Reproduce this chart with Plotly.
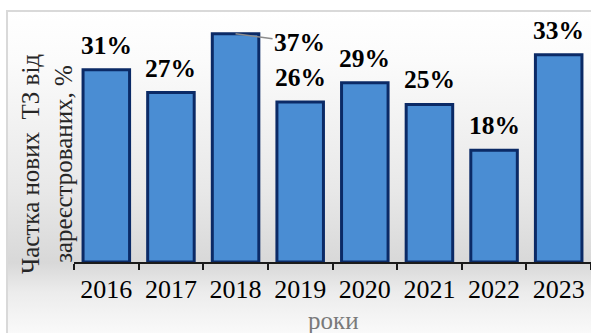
import base64
import plotly.graph_objects as go

years = ["2016", "2017", "2018", "2019", "2020", "2021", "2022", "2023"]
shares = [31.0, 27.3, 36.8, 25.8, 28.9, 25.4, 18.0, 33.4]
labels = [f"{round(v)}%" for v in shares]
y_title = "Частка нових  ТЗ від<br>зареєстрованих, %"
x_title = "роки"

W, H = 591, 333
L, R, T, B = 74, 0, 20, 71
pw, ph = W - L - R, H - T - B

def px_to_paper_x(px):
    return (px - L) / pw

def px_to_paper_y(py):
    return (H - B - py) / ph

FONT = "Liberation Serif"

svg = """<svg xmlns='http://www.w3.org/2000/svg' width='100' height='100' preserveAspectRatio='none'>
<defs><linearGradient id='g' x1='0' y1='0' x2='0' y2='1'>
<stop offset='0' stop-color='#ffffff'/>
<stop offset='0.15' stop-color='#fbfbfb'/>
<stop offset='0.55' stop-color='#e8e8e8'/>
<stop offset='0.77' stop-color='#d8d8d8'/>
<stop offset='0.86' stop-color='#ececec'/>
<stop offset='1' stop-color='#fbfbfb'/>
</linearGradient></defs>
<rect width='100' height='100' fill='url(#g)'/></svg>"""
src = "data:image/svg+xml;base64," + base64.b64encode(svg.encode()).decode()

fig = go.Figure()
fig.add_trace(go.Bar(
    x=years, y=shares,
    marker=dict(color="#4a8dd3", line=dict(color="#0b2a66", width=3)),
    width=0.72,
    hoverinfo="skip",
    cliponaxis=False,
))

annotations = []
for i, (v, lab) in enumerate(zip(shares, labels)):
    if years[i] == "2018":
        annotations.append(dict(
            x=i, y=v, xref="x", yref="y", text=f"<b>{lab}</b>",
            showarrow=True, arrowhead=0, arrowwidth=1.5, arrowcolor="#8c8c8c",
            ax=64, ay=9, standoff=0,
            font=dict(family=FONT, size=25.5, color="#000000"),
        ))
    else:
        annotations.append(dict(
            x=i, y=v, xref="x", yref="y", text=f"<b>{lab}</b>",
            showarrow=False, yanchor="bottom", yshift=8,
            font=dict(family=FONT, size=25.5, color="#000000"),
        ))

annotations.append(dict(
    x=px_to_paper_x(47), y=px_to_paper_y(164), xref="paper", yref="paper",
    text=y_title, textangle=-90, showarrow=False, xanchor="center", yanchor="middle",
    font=dict(family=FONT, size=25, color="#262626"),
))
annotations.append(dict(
    x=px_to_paper_x(333), y=px_to_paper_y(320), xref="paper", yref="paper",
    text=x_title, showarrow=False, xanchor="center", yanchor="middle",
    font=dict(family=FONT, size=25, color="#7a7a7a"),
))

fig.update_layout(
    width=W, height=H,
    margin=dict(l=L, r=R, t=T, b=B, pad=0),
    paper_bgcolor="white", plot_bgcolor="rgba(0,0,0,0)",
    showlegend=False,
    annotations=annotations,
    images=[dict(
        source=src, xref="paper", yref="paper",
        x=px_to_paper_x(7), y=px_to_paper_y(11),
        sizex=px_to_paper_x(W + 5) - px_to_paper_x(7),
        sizey=px_to_paper_y(11) - px_to_paper_y(H + 5),
        xanchor="left", yanchor="top", sizing="stretch", layer="below",
    )],
    shapes=[dict(
        type="rect", xref="paper", yref="paper",
        x0=px_to_paper_x(7), x1=px_to_paper_x(W + 10),
        y0=px_to_paper_y(H + 10), y1=px_to_paper_y(11),
        line=dict(color="#d9d9d9", width=2), fillcolor="rgba(0,0,0,0)", layer="below",
    )],
    xaxis=dict(
        type="category", range=[-0.5, len(years) - 0.5],
        showline=True, linecolor="#1a1a1a", linewidth=1.5,
        ticks="outside", tickson="boundaries", ticklen=6, tickcolor="#1a1a1a", tickwidth=1.5,
        tickfont=dict(family=FONT, size=26, color="#000000"),
        tickangle=0, ticklabelstandoff=3,
        showgrid=False, zeroline=False, fixedrange=True,
    ),
    yaxis=dict(
        range=[0, 39], showticklabels=False, showgrid=False, zeroline=False,
        showline=False, ticks="", fixedrange=True,
    ),
)

fig.write_html("out.html")
